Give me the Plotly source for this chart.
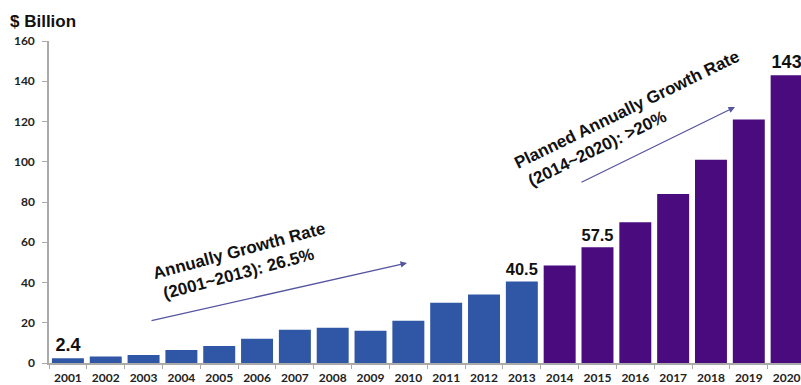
import plotly.graph_objects as go

years = [str(y) for y in range(2001, 2021)]
values = [2.4, 3.2, 4.0, 6.5, 8.5, 12.0, 16.5, 17.5, 16.0, 21.0, 30.0, 34.0, 40.5,
          48.5, 57.5, 70.0, 84.0, 101.0, 121.0, 143.0]
labels = ["2.4", "", "", "", "", "", "", "", "", "", "", "", "40.5",
          "", "57.5", "", "", "", "", "143"]
actual_years = years[:13]
planned_years = years[13:]

BLUE = "#2F57A5"
PURPLE = "#4A0B7E"
FONT = "Liberation Sans"

fig = go.Figure()
fig.add_trace(go.Bar(
    x=actual_years, y=values[:13], marker_color=BLUE, marker_line_width=0,
    text=labels[:13], textposition="outside",
    textfont=dict(family=FONT, size=18, color="#111"), cliponaxis=False,
))
fig.add_trace(go.Bar(
    x=planned_years, y=values[13:], marker_color=PURPLE, marker_line_width=0,
    text=labels[13:], textposition="outside",
    textfont=dict(family=FONT, size=18, color="#111"), cliponaxis=False,
))

W, H = 801, 385
L, R, T, B = 49, 0, 41, 22

fig.update_layout(
    width=W, height=H,
    margin=dict(l=L, r=R, t=T, b=B),
    paper_bgcolor="white", plot_bgcolor="white",
    showlegend=False, bargap=0.155, barmode="group",
    font=dict(family=FONT, color="#222"),
)
fig.update_xaxes(
    type="category", categoryorder="array", categoryarray=years,
    range=[-0.5, 19.38],
    showline=True, linecolor="#aaa", linewidth=1.5,
    ticks="outside", tickson="boundaries", ticklen=4, tickcolor="#aaa",
    ticklabelstandoff=3,
    tickfont=dict(family="Lato", size=12, color="#222", weight="bold"),
    showgrid=False,
)
fig.update_yaxes(
    range=[0, 160], tickvals=[0, 20, 40, 60, 80, 100, 120, 140, 160],
    showline=True, linecolor="#aaa", linewidth=1.5,
    ticks="outside", ticklen=5, tickcolor="#aaa",
    ticklabelstandoff=5,
    tickfont=dict(family="Lato", size=12, color="#222", weight="bold"),
    showgrid=False, zeroline=False,
)

def px_to_paper(px, py):
    return (px - L) / (W - L - R), (H - B - py) / (H - T - B)

anns = []
tx, ty = px_to_paper(8, 21)
anns.append(dict(xref="paper", yref="paper", x=tx, y=ty, xanchor="left", yanchor="middle",
                 text="<b>$ Billion</b>", showarrow=False,
                 font=dict(family=FONT, size=17, color="#111")))

# Arrows
hx, hy = px_to_paper(407, 263)
anns.append(dict(xref="paper", yref="paper", x=hx, y=hy, ax=150 - 407, ay=321 - 263,
                 axref="pixel", ayref="pixel", text="", showarrow=True,
                 arrowhead=2, arrowsize=1, arrowwidth=1.3, arrowcolor="#5555A0"))
hx, hy = px_to_paper(735, 107)
anns.append(dict(xref="paper", yref="paper", x=hx, y=hy, ax=580 - 735, ay=183 - 107,
                 axref="pixel", ayref="pixel", text="", showarrow=True,
                 arrowhead=2, arrowsize=1, arrowwidth=1.3, arrowcolor="#5555A0"))

# Rotated texts
cx, cy = px_to_paper(242, 261)
anns.append(dict(xref="paper", yref="paper", x=cx, y=cy, xanchor="center", yanchor="middle",
                 align="left",
                 text="<b>Annually Growth Rate<br>&nbsp;(2001~2013): 26.5%</b>", showarrow=False,
                 textangle=-15, font=dict(family=FONT, size=17, color="#111")))
cx, cy = px_to_paper(632, 120)
anns.append(dict(xref="paper", yref="paper", x=cx, y=cy, xanchor="center", yanchor="middle",
                 align="left",
                 text="<b>Planned Annually Growth Rate<br>&nbsp;(2014~2020): >20%</b>", showarrow=False,
                 textangle=-26, font=dict(family=FONT, size=17, color="#111")))

fig.update_layout(annotations=anns)
fig.update_traces(texttemplate="<b>%{text}</b>")

fig.write_html("out.html")
